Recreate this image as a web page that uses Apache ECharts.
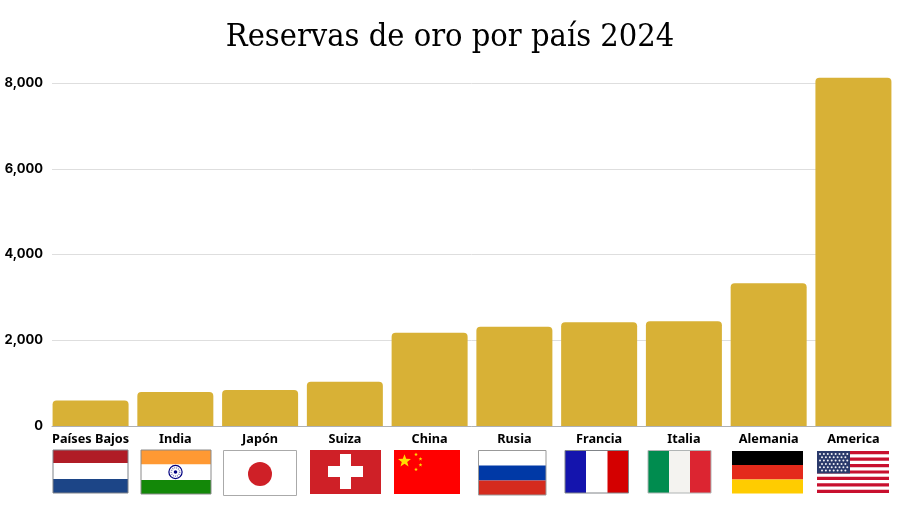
<!DOCTYPE html>
<html><head><meta charset="utf-8">
<style>html,body{margin:0;padding:0;background:#fff}#c{width:900px;height:506px}</style>
<script src="https://cdn.jsdelivr.net/npm/echarts@6/dist/echarts.min.js"></script>
</head><body><div id="c"></div>
<script>
const categories = ['Países Bajos','India','Japón','Suiza','China','Rusia','Francia','Italia','Alemania','America'];
const reservas = [597,794,840,1033,2175,2315,2420,2445,3330,8120];
const yTicks = [0,2000,4000,6000,8000];

const chart = echarts.init(document.getElementById('c'), null, {renderer:'canvas'});
const FONT = '"Noto Sans","Open Sans",sans-serif';

function rect(x,y,w,h,fill,stroke){
  return {type:'rect',shape:{x,y,width:w,height:h},silent:true,
    style:{fill,stroke:stroke||null,lineWidth:stroke?1:0}};
}
function star(cx,cy,r,fill){
  const pts=[];
  for(let i=0;i<10;i++){
    const a=-Math.PI/2+i*Math.PI/5, q=i%2?r*0.42:r;
    pts.push([cx+q*Math.cos(a),cy+q*Math.sin(a)]);
  }
  return {type:'polygon',shape:{points:pts},silent:true,style:{fill}};
}
function hBands(x,y,w,hs,cols,border){
  const out=[];let yy=y;
  hs.forEach((h,i)=>{out.push(rect(x,yy,w,h,cols[i]));yy+=h;});
  if(border) out.push(rect(x,y,w,yy-y,'none',border));
  return out;
}
function vBands(x,y,ws,h,cols,border){
  const out=[];let xx=x;
  ws.forEach((w,i)=>{out.push(rect(xx,y,w,h,cols[i]));xx+=w;});
  if(border) out.push(rect(x,y,xx-x,h,'none',border));
  return out;
}
function usa(){
  const x=817,y=451,w=72,h=42,out=[rect(x,y,w,h,'#ffffff')];
  const sh=h/13;
  for(let i=0;i<13;i+=2) out.push(rect(x,y+i*sh,w,sh,'#c8102e'));
  out.push(rect(x,y,33,22.5,'#2b3a6b'));
  for(let r=0;r<6;r++) for(let c=0;c<(r%2?7:8);c++){
    out.push({type:'circle',shape:{cx:x+3+(r%2?2:0)+c*3.9,cy:y+3+r*3.3,r:1},silent:true,style:{fill:'#f2f2f6'}});
  }
  return out;
}
const flags=[].concat(
  hBands(53,450,75,[13,16,14],['#b01c26','#ffffff','#1c4587'],'#7f8288'),
  hBands(141,450,70,[14.5,15.5,14],['#ff9933','#ffffff','#138808'],'#8a8a8a'),
  [{type:'circle',shape:{cx:175.5,cy:472,r:6.6},silent:true,style:{fill:'#fff',stroke:'#000080',lineWidth:1.2}},
   {type:'circle',shape:{cx:175.5,cy:472,r:1.8},silent:true,style:{fill:'#000080'}},
   {type:'circle',shape:{cx:175.5,cy:472,r:4.2},silent:true,style:{fill:'none',stroke:'#8a8ac0',lineWidth:1.6,lineDash:[1,1]}}],
  [rect(223.5,450.5,73,45,'#ffffff','#aaaaaa'),
   {type:'circle',shape:{cx:260,cy:474,r:12},silent:true,style:{fill:'#cf2027'}}],
  [rect(310,450,71,44,'#cf2027'),rect(340,454,11,35,'#ffffff'),rect(328,466,35,11,'#ffffff')],
  [rect(394,450,66,44,'#ff0000'),star(404.5,461,6.8,'#ffde00'),star(416,454.5,2,'#ffde00'),
   star(420.5,459,2,'#ffde00'),star(420.5,465,2,'#ffde00'),star(416,469.5,2,'#ffde00')],
  hBands(478.5,450.5,67.5,[15,15,14.5],['#ffffff','#0039a6','#d52b1e'],'#999999'),
  vBands(565,450.5,[21,21.5,21],42.5,['#1414ad','#ffffff','#d40000'],'#808488'),
  vBands(648,450.5,[21,21,21],42.5,['#008c4f','#f4f3f0','#dc2531'],'#b0b4b4'),
  hBands(732,451,71,[14,14.5,14],['#000000','#e42a1b','#ffcc00']),
  usa()
);

chart.setOption({
  animation:false,
  backgroundColor:'#ffffff',
  title:{text:'Reservas de oro por país 2024',left:'center',top:17,
    textStyle:{fontFamily:'"DejaVu Serif Condensed","DejaVu Serif",serif',fontSize:32.3,fontWeight:'normal',color:'#000'}},
  grid:[
    {left:52,right:9,top:83,bottom:80},
    {left:48.2,right:4.2,top:83,bottom:80}
  ],
  xAxis:[
    {gridIndex:0,type:'category',data:categories,axisTick:{show:false},axisLabel:{show:false},
      axisLine:{show:true,lineStyle:{color:'#aeb0b4',width:1}}},
    {gridIndex:1,type:'category',data:categories,axisTick:{show:false},axisLine:{show:false},
      axisLabel:{show:true,interval:0,margin:7,color:'#000',fontFamily:FONT,fontWeight:'bold',fontSize:12.7}}
  ],
  yAxis:[
    {gridIndex:0,type:'value',min:0,max:8000,interval:2000,
      axisLine:{show:false},axisTick:{show:false},
      splitLine:{show:true,lineStyle:{color:'#dedede',width:1}},
      axisLabel:{margin:9,color:'#000',fontFamily:'Inter,"Noto Sans",sans-serif',fontWeight:'bold',fontSize:13,
        formatter:v=>yTicks.includes(v)?v.toLocaleString('en-US'):''}},
    {gridIndex:1,type:'value',min:0,max:8000,interval:2000,show:false}
  ],
  series:[{
    type:'bar',xAxisIndex:1,yAxisIndex:1,data:reservas,clip:false,barWidth:76,
    itemStyle:{color:'#d8b136',borderRadius:[4,4,0,0]}
  }],
  graphic:{elements:flags}
});
</script></body></html>
